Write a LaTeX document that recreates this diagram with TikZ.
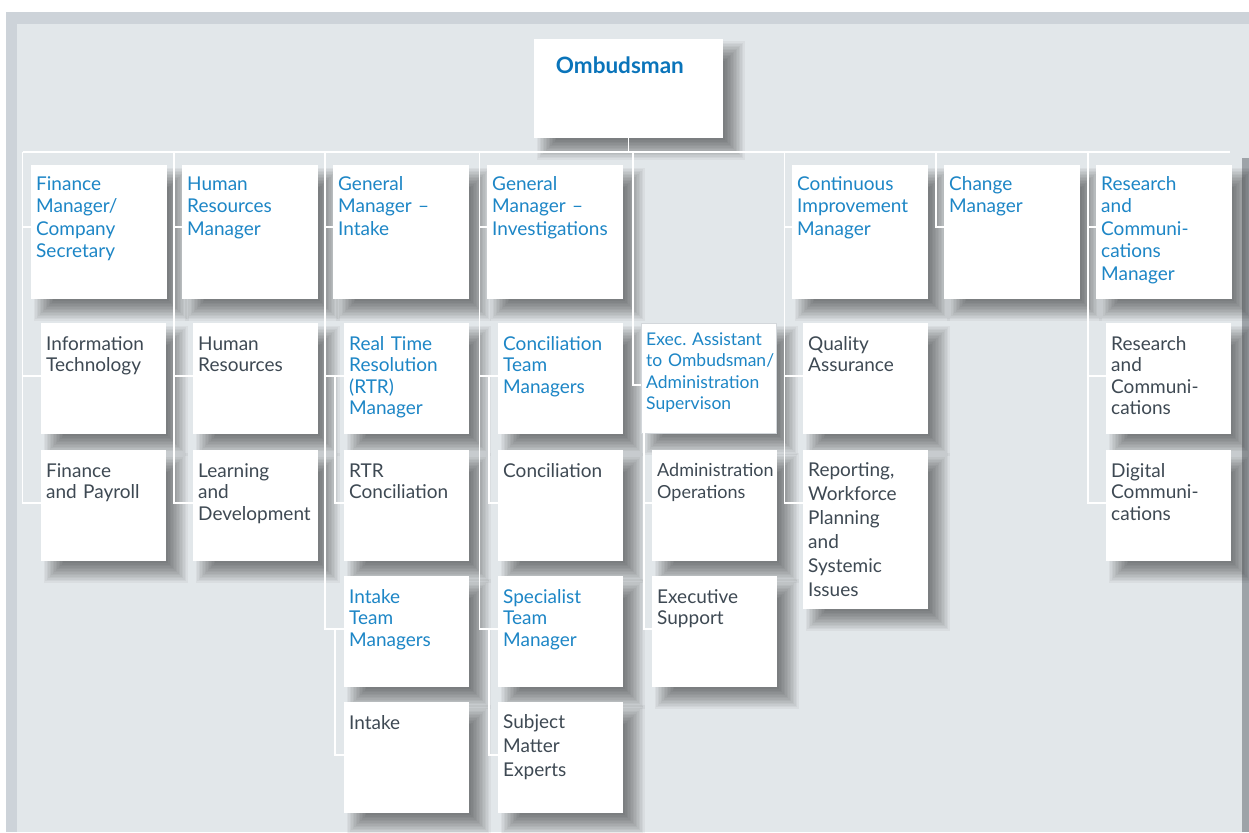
\documentclass[tikz,border=0pt]{standalone}
\usepackage{fontspec}
\setmainfont{Lato}
\usetikzlibrary{calc}

\definecolor{mgrblue}{HTML}{1D86C6}
\definecolor{unitgrey}{HTML}{3E4953}
\definecolor{ombblue}{HTML}{0A74BA}
\definecolor{panel}{HTML}{E2E7EA}
\definecolor{framegrey}{HTML}{CDD3D9}
\definecolor{edgegrey}{HTML}{9DA3A8}
\definecolor{cardline}{HTML}{D3D7DB}

\pgfdeclarelayer{panel}
\pgfdeclarelayer{shade}
\pgfsetlayers{panel,shade,main}

\begin{document}
\begin{tikzpicture}[x=1pt,y=-1pt,
  card/.style={fill=white, anchor=north west, inner sep=0pt, outer sep=0pt},
  head/.style={card, minimum width=136pt, minimum height=134pt},
  unit/.style={card, minimum width=125pt, minimum height=111pt},
  txt/.style={anchor=north west, inner sep=0pt, text width=150pt, align=left,
    execute at begin node=\strut, xshift=5pt},
  headtxt/.style={txt, text=mgrblue, font=\fontsize{19pt}{22.5pt}\selectfont, yshift=-9.25pt},
  bluetxt/.style={txt, text=mgrblue, font=\fontsize{19pt}{21.5pt}\selectfont, yshift=-11.95pt},
  greytxt/.style={txt, text=unitgrey, font=\fontsize{19pt}{21.5pt}\selectfont, yshift=-11.95pt},
  tallgrey/.style={txt, text=unitgrey, font=\fontsize{19pt}{24pt}\selectfont, yshift=-9.9pt},
  link/.style={draw=white, line width=1.6pt},
  shadestep/.style={fill=black, fill opacity=0.04, draw=none}
]
% page and panel
\useasboundingbox (0,0) rectangle (1249,832);
\begin{pgfonlayer}{panel}
\fill[white] (0,0) rectangle (1249,832);
\fill[framegrey] (6,12) rectangle (1249,832);
\fill[panel] (17,24) rectangle (1249,832);
\fill[edgegrey] (1242,158) rectangle (1249,832);
\end{pgfonlayer}

% head of the office
\node[card, minimum width=189pt, minimum height=99pt,
  label={[anchor=base west, inner sep=0pt, xshift=21.7pt, yshift=-35pt, text=ombblue,
          font=\fontsize{22.5pt}{26pt}\selectfont\bfseries]north west:Ombudsman}]
  (omb) at (534,39) {};

% managers reporting to the Ombudsman
\node[head, label={[headtxt]north west:{Finance\\Manager/\\Company\\Secretary}}] (fm) at (31,165) {};
\node[head, label={[headtxt]north west:{Human\\Resources\\Manager}}] (hrm) at (182,165) {};
\node[head, label={[headtxt]north west:{General\\Manager –\\Intake}}] (gmi) at (333,165) {};
\node[head, label={[headtxt]north west:{General\\Manager –\\Investigations}}] (gmv) at (487,165) {};
\node[head, label={[headtxt]north west:{Continuous\\Improvement\\Manager}}] (cim) at (792,165) {};
\node[head, label={[headtxt]north west:{Change\\Manager}}] (chm) at (944,165) {};
\node[head, label={[headtxt]north west:{Research\\and\\Communi-\\cations\\Manager}}] (rcm) at (1096,165) {};

% finance
\node[unit, label={[greytxt]north west:{Information\\Technology}}] (it) at (41,323) {};
\node[unit, label={[greytxt]north west:{Finance\\and Payroll}}] (fp) at (41,450) {};
% human resources
\node[unit, label={[greytxt]north west:{Human\\Resources}}] (hr) at (193,323) {};
\node[unit, label={[greytxt]north west:{Learning\\and\\Development}}] (ld) at (193,450) {};
% intake
\node[unit, label={[bluetxt]north west:{Real Time\\Resolution\\(RTR)\\Manager}}] (rtrm) at (344,323) {};
\node[unit, label={[greytxt]north west:{RTR\\Conciliation}}] (rtrc) at (344,450) {};
\node[unit, label={[bluetxt]north west:{Intake\\Team\\Managers}}] (itm) at (344,576) {};
\node[unit, label={[greytxt]north west:{Intake}}] (intake) at (344,702) {};
% investigations
\node[unit, label={[bluetxt]north west:{Conciliation\\Team\\Managers}}] (ctm) at (498,323) {};
\node[unit, label={[greytxt]north west:{Conciliation}}] (conc) at (498,450) {};
\node[unit, label={[bluetxt]north west:{Specialist\\Team\\Manager}}] (stm) at (498,576) {};
\node[unit, label={[tallgrey]north west:{Subject\\Matter\\Experts}}] (sme) at (498,702) {};
% executive assistant
\node[card, draw=cardline, line width=0.8pt, minimum width=135pt, minimum height=110pt,
  label={[txt, text=mgrblue, font=\fontsize{17.5pt}{21.5pt}\selectfont, yshift=-6.95pt]north west:
    {Exec.\ Assistant\\to Ombudsman/\\Administration\\Supervison}}] (ea) at (641,323) {};
\node[unit, label={[greytxt, font=\fontsize{18pt}{21.5pt}\selectfont, yshift=0.4pt]north west:{Administration\\Operations}}] (ao) at (652,450) {};
\node[unit, label={[greytxt]north west:{Executive\\Support}}] (es) at (652,576) {};
% continuous improvement
\node[unit, label={[greytxt]north west:{Quality\\Assurance}}] (qa) at (803,323) {};
\node[unit, minimum height=159pt,
  label={[tallgrey]north west:{Reporting,\\Workforce\\Planning\\and\\Systemic\\Issues}}] (rep) at (803,450) {};
% research and communications
\node[unit, label={[greytxt]north west:{Research\\and\\Communi-\\cations}}] (rc) at (1106,323) {};
\node[unit, label={[greytxt]north west:{Digital\\Communi-\\cations}}] (dc) at (1106,450) {};

% soft drop shadows: stacked translucent rectangles, offset down and right
\begin{pgfonlayer}{shade}
\foreach \n in {omb, fm, hrm, gmi, gmv, cim, chm, rcm, it, fp, hr, ld, rtrm, rtrc, itm, intake,
                ctm, conc, stm, sme, ea, ao, es, qa, rep, rc, dc}
  \foreach \k in {1,...,14}
    \fill[shadestep] ($(\n.north west)+(12-11+1.5*\k,12-11+1.5*\k)$)
                     rectangle ($(\n.south east)+(12+11-1.5*\k,12+11-1.5*\k)$);
\end{pgfonlayer}

% entry points on the left side of each card
\foreach \n/\o in {fm/62, hrm/62, gmi/62, gmv/62, cim/62, chm/62, rcm/62, ea/62,
                   it/53, fp/53, hr/53, ld/53, rtrm/53, rtrc/53, itm/53, intake/53,
                   ctm/53, conc/53, stm/53, sme/53, ao/53, es/53, qa/53, rep/53, rc/53, dc/53}
  \coordinate (\n-in) at ($(\n.north west)+(0,\o)$);

% main bus
\coordinate (busL) at (22.5,152);
\coordinate (busR) at (1230,152);
\draw[link] (busL) -- (busR);
\draw[link] (omb.south) -- (omb.south |- busL);

% column drops from the bus
\coordinate (c1) at (22.5,152);
\coordinate (c2) at (174,152);
\coordinate (c3) at (325,152);
\coordinate (c4) at (479.5,152);
\coordinate (c5) at (633,152);
\coordinate (c6) at (784.5,152);
\coordinate (c7) at (936,152);
\coordinate (c8) at (1088,152);

% finance
\draw[link] (c1) -- (c1 |- fp-in) -- (fp-in);
\draw[link] (c1 |- fm-in) -- (fm-in);
\draw[link] (c1 |- it-in) -- (it-in);
% human resources
\draw[link] (c2) -- (c2 |- ld-in) -- (ld-in);
\draw[link] (c2 |- hrm-in) -- (hrm-in);
\draw[link] (c2 |- hr-in) -- (hr-in);
% intake
\draw[link] (c3) -- (c3 |- itm-in) -- (itm-in);
\draw[link] (c3 |- gmi-in) -- (gmi-in);
\draw[link] (c3 |- rtrm-in) -- (rtrm-in);
\draw[link] ([xshift=-9pt]rtrm-in) |- (rtrc-in);
\draw[link] ([xshift=-9pt]itm-in) |- (intake-in);
% investigations
\draw[link] (c4) -- (c4 |- stm-in) -- (stm-in);
\draw[link] (c4 |- gmv-in) -- (gmv-in);
\draw[link] (c4 |- ctm-in) -- (ctm-in);
\draw[link] ([xshift=-9pt]ctm-in) |- (conc-in);
\draw[link] ([xshift=-9pt]stm-in) |- (sme-in);
% executive assistant
\draw[link] (c5) |- (ea-in);
\coordinate (eadrop) at ([xshift=3pt]ea.south west);
\draw[link] (eadrop) |- (es-in);
\draw[link] (eadrop |- ao-in) -- (ao-in);
% continuous improvement
\draw[link] (c6) -- (c6 |- rep-in) -- (rep-in);
\draw[link] (c6 |- cim-in) -- (cim-in);
\draw[link] (c6 |- qa-in) -- (qa-in);
% change
\draw[link] (c7) |- (chm-in);
% research and communications
\draw[link] (c8) -- (c8 |- dc-in) -- (dc-in);
\draw[link] (c8 |- rcm-in) -- (rcm-in);
\draw[link] (c8 |- rc-in) -- (rc-in);
\end{tikzpicture}
\end{document}
